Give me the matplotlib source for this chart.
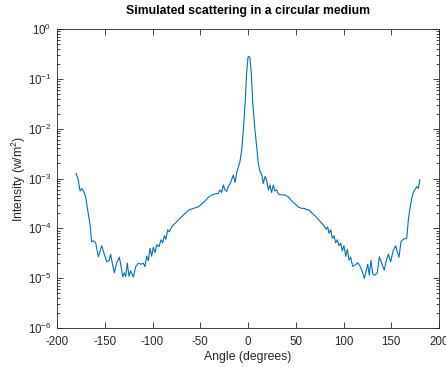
import matplotlib
matplotlib.use("Agg")
import matplotlib.pyplot as plt
import numpy as np
from matplotlib.ticker import LogLocator, FixedLocator

plt.rcParams['font.family'] = ['Liberation Sans', 'DejaVu Sans']
plt.rcParams['mathtext.fontset'] = 'custom'
plt.rcParams['mathtext.rm'] = 'Liberation Sans'
plt.rcParams['mathtext.default'] = 'regular'
plt.rcParams['axes.unicode_minus'] = False

# Angle (degrees) and log10 of intensity
angle = [-180, -177.7, -175.9, -174.2, -172.4, -170.0, -167.9, -165.4, -163.7, -162.0,
         -159.5, -156.7, -153.2, -150.4, -148.0, -145.5, -143.8, -142.1, -140.0, -137.5,
         -134.7, -132.9, -131.2, -129.5, -128.1, -126.4, -124.6, -122.8, -120.1, -117.6,
         -114.8, -112.0, -109.6, -107.9, -106.1, -104.4, -102.6, -100.8, -99.2, -97.4,
         -95.6, -93.2, -91.1, -89.3, -87.6, -85.9, -84.1, -82.4, -79.9, -76.4,
         -71.2, -65.9, -61.8, -57.3, -52.0, -48.5, -45.0, -41.5, -38.0, -34.6,
         -31.1, -29.3, -27.6, -25.8, -24.1, -22.3, -20.6, -18.8, -17.1, -15.4,
         -13.6, -11.8, -10.2, -8.4, -6.6, -4.9, -3.0, -1.5, 0.0, 1.0,
         2.0, 3.5, 5.0, 7.3, 9.1, 10.8, 12.6, 14.3, 16.0, 17.8,
         19.5, 21.3, 23.0, 24.8, 26.5, 28.3, 30.1, 31.7, 35.3, 38.7,
         42.2, 45.8, 49.2, 52.7, 56.2, 59.7, 61.5, 63.1, 64.9, 66.7,
         70.2, 73.6, 77.2, 79.9, 81.7, 83.5, 84.8, 86.6, 88.3, 90.1,
         91.8, 93.5, 95.3, 97.1, 98.7, 100.5, 102.3, 104.0, 105.8, 107.5,
         109.6, 112.0, 114.9, 117.3, 119.7, 121.8, 123.6, 125.4, 127.0, 128.8,
         130.6, 133.0, 135.4, 137.5, 140.0, 142.7, 144.5, 146.9, 149.4, 152.1,
         154.7, 156.3, 158.1, 160.2, 162.6, 166.2, 167.9, 169.6, 171.4, 173.1,
         174.9, 176.7, 178.3, 180.0]
log_intensity = [-2.90, -3.03, -3.25, -3.20, -3.24, -3.37, -3.63, -3.93, -4.27, -4.25,
                 -4.29, -4.57, -4.35, -4.52, -4.67, -4.65, -4.52, -4.70, -4.89, -4.69,
                 -4.58, -4.77, -4.97, -4.89, -4.97, -4.70, -4.96, -4.85, -4.98, -4.77,
                 -4.70, -4.72, -4.70, -4.77, -4.56, -4.65, -4.40, -4.56, -4.38, -4.49,
                 -4.33, -4.37, -4.23, -4.29, -4.15, -4.22, -4.03, -4.07, -3.97, -3.90,
                 -3.80, -3.70, -3.63, -3.60, -3.57, -3.51, -3.45, -3.38, -3.33, -3.31,
                 -3.30, -3.23, -3.28, -3.13, -3.23, -3.26, -3.15, -3.11, -3.02, -2.93,
                 -3.08, -2.88, -2.78, -2.66, -2.43, -2.03, -1.49, -0.90, -0.57, -0.55,
                 -0.57, -0.90, -1.49, -2.03, -2.36, -2.70, -2.86, -2.91, -3.10, -2.96,
                 -3.03, -3.23, -3.13, -3.28, -3.13, -3.25, -3.23, -3.31, -3.33, -3.33,
                 -3.37, -3.45, -3.51, -3.57, -3.60, -3.60, -3.63, -3.62, -3.65, -3.69,
                 -3.75, -3.82, -3.90, -3.95, -4.02, -3.97, -4.10, -4.03, -4.20, -4.15,
                 -4.29, -4.23, -4.35, -4.30, -4.45, -4.35, -4.56, -4.42, -4.64, -4.58,
                 -4.76, -4.74, -4.69, -4.76, -4.87, -5.00, -4.87, -4.72, -4.94, -4.64,
                 -4.92, -4.94, -4.89, -4.57, -4.70, -4.84, -4.67, -4.52, -4.67, -4.44,
                 -4.35, -4.47, -4.58, -4.27, -4.22, -4.20, -3.83, -3.60, -3.40, -3.28,
                 -3.22, -3.16, -3.20, -3.02]
x_ticks = [-200, -150, -100, -50, 0, 50, 100, 150, 200]
intensity = np.power(10.0, log_intensity)

fig = plt.figure(figsize=(4.46, 3.67), dpi=100)
ax = fig.add_axes([57/446, 1 - 328/367, 382/446, 299/367])
ax.plot(angle, intensity, color='#0072BD', linewidth=0.8)
ax.set_yscale('log')
ax.set_xlim(-200, 200)
ax.set_ylim(1e-6, 1e0)
ax.xaxis.set_major_locator(FixedLocator(x_ticks))
ax.yaxis.set_major_locator(LogLocator(base=10, numticks=10))
ax.yaxis.set_minor_locator(LogLocator(base=10, subs=np.arange(2, 10), numticks=20))

edge = '#262626'
for s in ax.spines.values():
    s.set_color(edge)
    s.set_linewidth(0.6)
ax.tick_params(axis='both', which='both', direction='in', top=True, right=True,
               color=edge, labelcolor=edge, labelsize=8.3, width=0.6)
ax.tick_params(axis='both', which='major', length=4)
ax.tick_params(axis='x', which='major', pad=6)
ax.tick_params(axis='y', which='major', pad=4)
ax.tick_params(axis='y', which='minor', length=2)
ax.tick_params(axis='x', which='minor', bottom=False, top=False)

ax.set_title('Simulated scattering in a circular medium', fontsize=8.8,
             fontweight='bold', color='black', pad=11)
ax.set_xlabel('Angle (degrees)', fontsize=8.8, color=edge, labelpad=2)
ax.set_ylabel('Intensity (w/m$^2$)', fontsize=8.8, color=edge, labelpad=0)

fig.savefig('out.png', dpi=100)
